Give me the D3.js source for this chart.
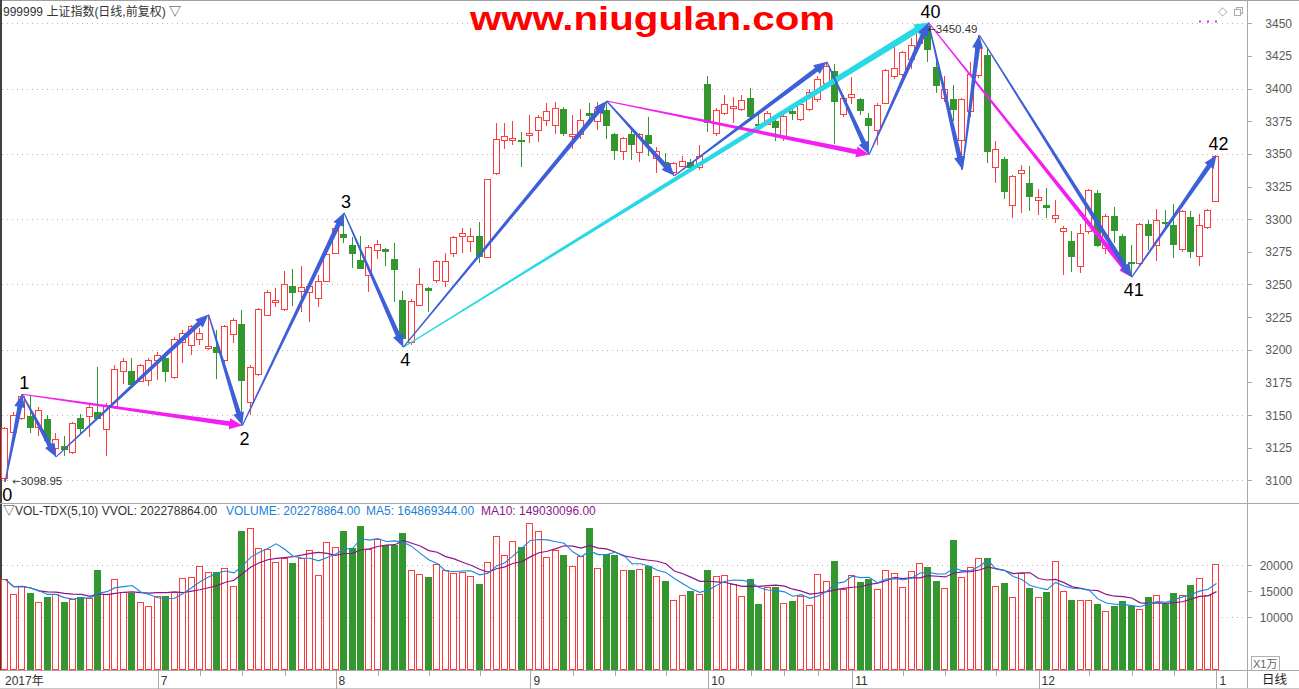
<!DOCTYPE html>
<html><head><meta charset="utf-8">
<script src="https://cdn.jsdelivr.net/npm/d3@7"></script>
<style>
html,body{margin:0;padding:0;background:#fff;}
svg{display:block;font-family:"Liberation Sans",Arial,"Noto Sans CJK SC",sans-serif;}
</style></head><body><svg id="c" width="1299" height="689"></svg>
<script>
// ---------- data ----------
const opens = [3101.5,3137,3148,3149.5,3141,3147,3125,3126,3122,3147.5,
3149,3152.5,3139,3157,3184,3184,3176,3177,3192,3193.5,
3179,3206,3204,3208,3201,3202.5,3192,3212,3220,3160,
3181.5,3227,3236.5,3231,3249,3245,3244,3240,3253,3274.5,
3288.5,3280,3269,3257.4,3276.5,3277,3269.5,3237.8,3205.6,3234.5,
3247.5,3253.5,3253,3274,3287,3283,3287,3271.3,3335,3361,
3360.7,3361,3364.7,3368.5,3376,3372,3384,3363.6,3365.4,3381.5,
3375,3383.3,3365,3352,3365.4,3351.8,3364.6,3346.7,3344,3336.4,
3341,3344,3340,3403.3,3366,3381.3,3385.4,3384.6,3393,3373,
3373,3375,3362.8,3382.8,3376.4,3384,3392,3404.6,3413.6,3380.8,
3393.6,3391.8,3377.7,3368,3389,3409.5,3410.8,3423,3434.6,3448,
3416.7,3393,3392.3,3360.8,3382.6,3410.3,3425.6,3339.7,3346,3310.8,
3335.4,3328,3315,3310.5,3301.3,3291.3,3283,3264,3290.6,3320,
3278,3302.8,3287.5,3267.6,3266.3,3296.4,3280.4,3297.9,3295.7,3277.3,
3302,3271.7,3294.4,3314];
const closes = [3140,3150,3165,3141,3154,3131,3132,3124,3144,3140.5,
3156,3148,3158,3185.5,3191.5,3174,3188.7,3192.5,3196,3184,
3208,3213,3218,3213,3203,3198,3218,3223,3177,3187,
3231,3244.5,3238,3250.6,3244.5,3248,3249,3253,3273,3293,
3286,3274,3263,3279,3281,3275.5,3262,3209.4,3237,3250.5,
3246,3268,3268,3286.5,3289.3,3287,3271.6,3330.5,3361.7,3364,
3362.4,3360.5,3366,3378,3383,3385.4,3366,3365,3376,3380,
3384.6,3371.8,3353.3,3362.3,3357.7,3365.4,3358,3352.6,3342.3,3343,
3344.6,3340,3348.7,3374.4,3383.3,3388.5,3386.4,3391,3379,3372.3,
3381.5,3370.5,3378.7,3381.5,3388.5,3397.4,3407.4,3417,3390.5,3392.8,
3396,3383.3,3371.8,3387.7,3414,3415.4,3427.7,3433.3,3445,3430,
3402.8,3399.5,3384,3392.3,3410.8,3430.8,3352,3353.8,3321.8,3333.3,
3337.7,3317.4,3316.7,3309.6,3303.3,3293.4,3272.2,3289.5,3322,3280.6,
3302.5,3292,3265.8,3267,3296.4,3288,3299.5,3297.4,3281,3306,
3275.5,3295.7,3307,3348.3];
const highs = [3141,3152,3166,3165,3156,3150,3136,3134,3145,3151,
3158,3187,3159,3188,3193.5,3194,3189,3194,3198,3198,
3210,3215.5,3219,3217,3227,3215,3219,3224,3230.5,3188,
3232,3246,3247,3260,3261.6,3264,3252,3257,3274,3294,
3305,3286,3287,3280,3284,3278,3281.7,3244.7,3239,3263,
3248,3269,3274,3287,3293,3293,3298,3331,3373.6,3373.6,
3375,3366.5,3380,3380,3389,3389.5,3386,3380,3384.6,3389,
3389.7,3390.5,3366,3363,3369,3366,3378,3355,3351,3344,
3348.7,3346,3357,3410,3385,3395,3393.6,3395,3400.8,3381,
3383,3377,3380,3386,3390,3400,3409.5,3420.5,3419,3395,
3409,3393,3381,3389,3415,3432,3429,3438.5,3447.4,3450.49,
3424,3409.5,3402.6,3393,3420.5,3441,3430,3360,3347.4,3334,
3341.8,3341,3323,3323.8,3315,3295,3291,3296,3323,3322,
3304,3309.7,3289,3280.6,3297,3299.7,3308,3307,3312,3307,
3306.6,3303.6,3308,3349];
const lows = [3098.95,3135,3146,3136,3134,3126,3118,3118.5,3120,3135.5,
3133,3147,3119,3155,3174,3172,3175,3172,3177,3175,
3178,3190,3196,3204,3200,3178,3190,3205,3142,3150,
3180,3226,3232.5,3230,3233.6,3229,3221,3233,3252.7,3273,
3282,3263,3262,3244,3269.5,3264,3236.5,3202,3204,3234,
3229,3251,3248,3271,3274,3275,3266.5,3271,3334,3353.8,
3357,3340,3358.4,3359,3371,3365.4,3363.6,3354,3361.5,3372,
3368.5,3361.5,3345.6,3345.6,3345.6,3344,3348.7,3335.4,3336,3333.3,
3339.7,3338,3338,3367,3364,3380,3373.6,3383,3378,3366.7,
3371.8,3360,3360,3376,3375,3383,3390,3402,3357.7,3378,
3388,3380,3349.5,3357,3388,3407,3408,3415,3432,3420.5,
3396.7,3390,3375,3338,3378,3408,3342.8,3328,3315.4,3300.8,
3305,3306,3303.3,3301,3297,3257,3259.4,3259,3289,3279,
3273,3282,3262,3255.6,3265,3276.5,3268,3291.8,3270,3274.7,
3270,3263.8,3292.6,3314];
// volume in units of 10,000 (x1万)
const volumes = [17300,14480,16020,14740,12880,13900,14480,12940,13460,13900,
13650,19100,14550,17300,14870,14740,12940,12170,14100,14160,
14940,17500,17750,19860,18710,18710,19480,16020,26600,27100,
23260,23130,20570,21340,20440,21470,22940,18130,24420,23580,
26660,23330,27560,23070,25060,23900,23900,26210,19100,18330,
17810,20250,19100,18580,18780,17940,16400,20570,25630,21980,
24740,23460,28070,26600,21600,22940,21980,19860,21790,27240,
19420,22110,21980,19030,19100,19290,19860,17940,16980,13260,
14290,15060,14420,19100,17880,18130,16340,14100,17370,12620,
15890,15890,12690,13140,14160,12360,18260,16980,20830,15380,
18130,16850,17370,15380,19100,18460,15760,18900,20380,19740,
16980,15570,24870,17690,19670,21340,21470,16020,16660,13840,
18460,15570,13840,14870,20770,15130,13330,13330,13330,12560,
11210,12170,13140,12170,11530,13900,14290,12560,14610,14290,
16210,17500,14290,20230];

const monthStartIdx = [18,39,62,83,100,122,143];
const monthLabels = ["7","8","9","10","11","12","1"];
const firstLabel = "2017年";
const weekTickIdx = [23,28,33,44,50,56,67,72,78,88,92,96,106,111,117,128,133,138];
const priceTicks = [3100,3125,3150,3175,3200,3225,3250,3275,3300,3325,3350,3375,3400,3425,3450];
const priceGrid = [3100,3150,3200,3250,3300,3350,3400,3450];
const volTicks = [10000,15000,20000];
const volGrid = [10000,20000];

// wave pivots: [candle index, 'H' | 'L']
const bluePivots = [[0,'L'],[2,'H'],[6,'L'],[24,'H'],[28,'L'],[40,'H'],[47,'L'],[71,'H'],[79,'L'],[97,'H'],[102,'L'],[109,'H'],[113,'L'],[115,'H'],[133,'L'],[143,'H']];
const magentaSegs = [[[2,'H'],[28,'L']],[[71,'H'],[102,'L']],[[109,'H'],[133,'L']]];
const cyanSegs = [[[47,'L'],[109,'H']]];
const waveLabels = ["0","1","2","3","4","40","41","42"];
const waveLabelPivots = [[0,'L'],[2,'H'],[28,'L'],[40,'H'],[47,'L'],[109,'H'],[133,'L'],[143,'H']];
const extremeNotes = [[0,'L'],[109,'H']];

const titleText = "999999 上证指数(日线,前复权) ▽";
const watermark = "www.niugulan.com";
const legendParts = [
  {t: "▽VOL-TDX(5,10) VVOL: 202278864.00", c: "#333", x: 3},
  {t: "VOLUME: 202278864.00", c: "#1a7fd6", x: 226},
  {t: "MA5: 164869344.00", c: "#1a7fd6", x: 366},
  {t: "MA10: 149030096.00", c: "#8a168a", x: 481}
];

// ---------- drawing ----------
const svg = d3.select("#c");
const W = 1299, H = 689, PR = 1247;
const RED = "#ff3b3b", GREEN = "#33962f", BLUE = "#3d5fd8", MAG = "#f21ef2", CYAN = "#28d8e4";
const n = opens.length;

const x = d3.scaleBand().domain(d3.range(n)).range([1, 1220.7]).paddingInner(0);
const cx = i => x(i) + x.bandwidth() / 2;
const y = d3.scaleLinear().domain([3100, 3450]).range([480.4, 23.3]);
const yv = d3.scaleLinear().domain([0, 20000]).range([669.3, 565.3]);
const pv = p => p[1] === 'H' ? highs[p[0]] : lows[p[0]];
const pt = p => [cx(p[0]), y(pv(p))];

svg.append("rect").attr("width", W).attr("height", H).attr("fill", "#fff");

// frames
const frame = svg.append("g").attr("shape-rendering", "crispEdges");
frame.append("line").attr("x1", 0).attr("x2", W).attr("y1", 0.5).attr("y2", 0.5).attr("stroke", "#a0a0a0");
frame.append("line").attr("x1", 0.5).attr("x2", 0.5).attr("y1", 0).attr("y2", 670).attr("stroke", "#404040").attr("stroke-width", 2);
frame.append("line").attr("x1", PR + 0.5).attr("x2", PR + 0.5).attr("y1", 0).attr("y2", H).attr("stroke", "#a8a8a8");
frame.append("line").attr("x1", 0).attr("x2", W).attr("y1", 503.5).attr("y2", 503.5).attr("stroke", "#a8a8a8");
frame.append("line").attr("x1", 0).attr("x2", W).attr("y1", 670.5).attr("y2", 670.5).attr("stroke", "#a8a8a8");
frame.append("line").attr("x1", 0).attr("x2", W).attr("y1", 688.5).attr("y2", 688.5).attr("stroke", "#c8c8c8");

// grid
const grid = svg.append("g").attr("stroke", "#b8b8b8").attr("stroke-dasharray", "1,4").attr("shape-rendering", "crispEdges");
grid.selectAll(".pg").data(priceGrid).join("line")
  .attr("x1", 2).attr("x2", PR - 2).attr("y1", d => Math.round(y(d)) + 0.5).attr("y2", d => Math.round(y(d)) + 0.5);
grid.selectAll(".vg").data(volGrid).join("line")
  .attr("x1", 2).attr("x2", PR - 2).attr("y1", d => Math.round(yv(d)) + 0.5).attr("y2", d => Math.round(yv(d)) + 0.5);

// right axes
const ra = svg.append("g").attr("font-size", 12).attr("fill", "#5a5a5a");
ra.selectAll("line.pt").data(priceTicks).join("line").attr("class", "pt")
  .attr("x1", PR).attr("x2", PR + 5).attr("y1", d => Math.round(y(d)) + 0.5).attr("y2", d => Math.round(y(d)) + 0.5)
  .attr("stroke", "#a8a8a8").attr("shape-rendering", "crispEdges");
ra.selectAll("text.pt").data(priceTicks).join("text").attr("class", "pt")
  .attr("x", 1292).attr("y", d => y(d) + 4.5).attr("text-anchor", "end").text(d => d);
ra.selectAll("line.vt").data(volTicks).join("line").attr("class", "vt")
  .attr("x1", PR).attr("x2", PR + 5).attr("y1", d => Math.round(yv(d)) + 0.5).attr("y2", d => Math.round(yv(d)) + 0.5)
  .attr("stroke", "#a8a8a8").attr("shape-rendering", "crispEdges");
ra.selectAll("text.vt").data(volTicks).join("text").attr("class", "vt")
  .attr("x", 1293).attr("y", d => yv(d) + 4.5).attr("text-anchor", "end").text(d => d);
svg.append("rect").attr("x", 1251.5).attr("y", 656.5).attr("width", 28).attr("height", 14)
  .attr("fill", "#fff").attr("stroke", "#b0b0b0").attr("shape-rendering", "crispEdges");
svg.append("text").attr("x", 1253).attr("y", 668).attr("font-size", 11).attr("fill", "#666").text("X1万");
svg.append("text").attr("x", 1262).attr("y", 684).attr("font-size", 12.5).attr("fill", "#222").text("日线");

// top-right icons
svg.append("text").attr("x", 1218).attr("y", 15).attr("font-size", 12).attr("fill", "#aaa")
  .attr("font-family", "DejaVu Sans").text("◇");
svg.append("rect").attr("x", 1236.5).attr("y", 7.5).attr("width", 6).attr("height", 6).attr("fill", "none").attr("stroke", "#aaa");
svg.append("rect").attr("x", 1234.5).attr("y", 9.5).attr("width", 6).attr("height", 6).attr("fill", "#fff").attr("stroke", "#aaa");
svg.append("line").attr("x1", 1199).attr("x2", 1218).attr("y1", 21.5).attr("y2", 21.5)
  .attr("stroke", MAG).attr("stroke-width", 2).attr("stroke-dasharray", "2,6");

// bottom date axis
const da = svg.append("g").attr("font-size", 12).attr("fill", "#333");
da.selectAll("line.m").data(monthStartIdx).join("line").attr("class", "m")
  .attr("x1", i => Math.round(cx(i)) + 0.5).attr("x2", i => Math.round(cx(i)) + 0.5)
  .attr("y1", 671).attr("y2", 689).attr("stroke", "#a8a8a8").attr("shape-rendering", "crispEdges");
da.selectAll("line.w").data(weekTickIdx).join("line").attr("class", "w")
  .attr("x1", i => Math.round(cx(i)) + 0.5).attr("x2", i => Math.round(cx(i)) + 0.5)
  .attr("y1", 671).attr("y2", 676).attr("stroke", "#a8a8a8").attr("shape-rendering", "crispEdges");
da.selectAll("text.m").data(monthStartIdx).join("text").attr("class", "m")
  .attr("x", i => cx(i) + 3).attr("y", 685).text((d, k) => monthLabels[k]);
da.append("text").attr("x", 5).attr("y", 685).text(firstLabel);

// candles
const cg = svg.append("g");
const candle = cg.selectAll("g").data(d3.range(n)).join("g");
candle.each(function(i) {
  const g = d3.select(this);
  const up = closes[i] >= opens[i];
  const col = up ? RED : GREEN;
  const r = Math.round(cx(i));
  const top = Math.round(y(Math.max(opens[i], closes[i])));
  const bot = Math.max(top + 1, Math.round(y(Math.min(opens[i], closes[i]))));
  g.append("line").attr("x1", r - 0.5).attr("x2", r - 0.5).attr("y1", y(highs[i])).attr("y2", y(lows[i]))
    .attr("stroke", col).attr("shape-rendering", "crispEdges");
  if (up) {
    g.append("rect").attr("x", r - 3.5).attr("y", top + 0.5).attr("width", 6).attr("height", Math.max(1, bot - top))
      .attr("fill", "#fff").attr("stroke", col).attr("shape-rendering", "crispEdges");
  } else {
    g.append("rect").attr("x", r - 4).attr("y", top).attr("width", 7).attr("height", Math.max(1.5, bot - top + 1))
      .attr("fill", col).attr("shape-rendering", "crispEdges");
  }
});

// volume bars
const vg = svg.append("g");
vg.selectAll("rect").data(d3.range(n)).join("rect")
  .attr("x", i => closes[i] >= opens[i] ? Math.round(cx(i)) - 3.5 : Math.round(cx(i)) - 4)
  .attr("y", i => closes[i] >= opens[i] ? Math.round(yv(volumes[i])) + 0.5 : Math.round(yv(volumes[i])))
  .attr("width", i => closes[i] >= opens[i] ? 6 : 7)
  .attr("height", i => closes[i] >= opens[i] ? 669 - Math.round(yv(volumes[i])) - 0.5 : 669.5 - Math.round(yv(volumes[i])))
  .attr("fill", i => closes[i] >= opens[i] ? "#fff" : GREEN)
  .attr("stroke", i => closes[i] >= opens[i] ? RED : "none")
  .attr("shape-rendering", "crispEdges");

// volume moving averages (indicator computed from the volume series)
const ma = k => volumes.map((v, i) => d3.mean(volumes.slice(Math.max(0, i - k + 1), i + 1)));
const ma5 = ma(5), ma10 = ma(10);
const vline = d3.line().x((d, i) => cx(i)).y(d => yv(d));
svg.append("path").attr("d", vline(ma10)).attr("fill", "none").attr("stroke", "#8a168a").attr("stroke-width", 1.2);
svg.append("path").attr("d", vline(ma5)).attr("fill", "none").attr("stroke", "#1a86e0").attr("stroke-width", 1.1);

// tapered arrows
function wedge(p1, p2, w0, w1, hl, hw) {
  const dx = p2[0] - p1[0], dy = p2[1] - p1[1], L = Math.hypot(dx, dy);
  const ux = dx / L, uy = dy / L, nx = -uy, ny = ux;
  const bx = p2[0] - ux * hl, by = p2[1] - uy * hl;
  return [[p1[0] + nx * w0, p1[1] + ny * w0], [bx + nx * w1, by + ny * w1], [bx + nx * hw, by + ny * hw], p2,
          [bx - nx * hw, by - ny * hw], [bx - nx * w1, by - ny * w1], [p1[0] - nx * w0, p1[1] - ny * w0]];
}
const ag = svg.append("g");
const drawWedge = (a, b, col, w0, w1, hl, hw) =>
  ag.append("path").attr("d", "M" + wedge(pt(a), pt(b), w0, w1, hl, hw).map(p => p.join(",")).join("L") + "Z").attr("fill", col);

cyanSegs.forEach(s => drawWedge(s[0], s[1], CYAN, 0.6, 3.2, 14, 6.5));
magentaSegs.forEach(s => drawWedge(s[0], s[1], MAG, 0.5, 2.4, 13, 5.5));
for (let k = 0; k < bluePivots.length - 1; k++) drawWedge(bluePivots[k], bluePivots[k + 1], BLUE, 0.6, 2.4, 13, 5.5);

// wave labels
const lg = svg.append("g").attr("font-size", 18).attr("fill", "#000").attr("text-anchor", "middle");
lg.selectAll("text").data(waveLabelPivots).join("text")
  .attr("x", p => cx(p[0]) + 2)
  .attr("y", p => p[1] === 'H' ? y(pv(p)) - 5 : y(pv(p)) + 19)
  .text((p, k) => waveLabels[k]);

// extreme value notes
const notes = svg.append("g").attr("font-size", 11.5).attr("fill", "#333").selectAll("text").data(extremeNotes).join("text")
  .attr("x", p => p[1] === 'H' ? cx(p[0]) - 1 : cx(p[0]) + 7)
  .attr("y", p => p[1] === 'H' ? y(pv(p)) + 10 : y(pv(p)) + 3.5);
notes.append("tspan").attr("font-family", "DejaVu Sans").attr("font-size", 10).text("←");
notes.append("tspan").text(p => pv(p).toFixed(2));

// title & indicator legend
svg.append("text").attr("x", 3).attr("y", 16).attr("font-size", 12).attr("fill", "#333").text(titleText);
svg.append("g").attr("font-size", 12).selectAll("text").data(legendParts).join("text")
  .attr("x", d => d.x).attr("y", 515).attr("fill", d => d.c).text(d => d.t);

// watermark
svg.append("text").attr("x", 470).attr("y", 30).attr("font-size", 33).attr("font-weight", "bold")
  .attr("fill", "#ff0000").attr("textLength", 365).attr("lengthAdjust", "spacingAndGlyphs").text(watermark);
</script></body></html>
